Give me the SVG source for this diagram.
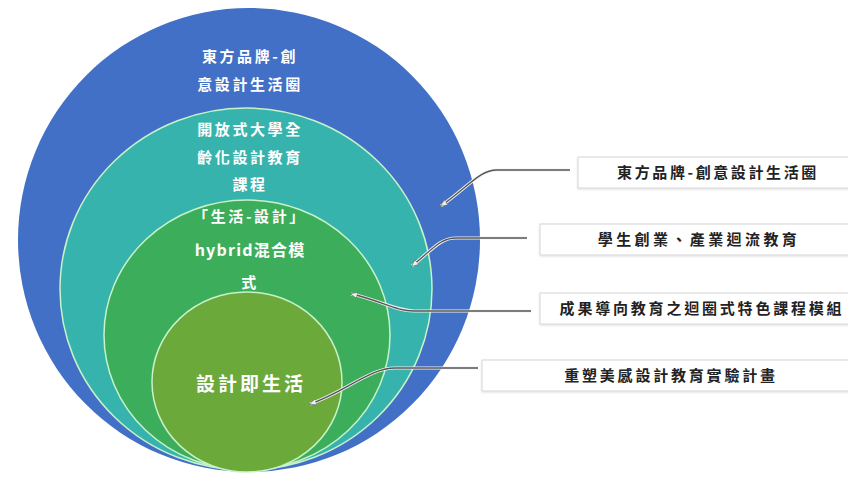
<svg xmlns="http://www.w3.org/2000/svg" width="848" height="481" viewBox="0 0 848 481">
<style>
.ring{stroke:#c8f2c8;stroke-width:1.5}
.ct{font-family:"Noto Sans CJK TC","Noto Sans",sans-serif;font-weight:bold;fill:#ffffff;font-size:15px;letter-spacing:2.6px;text-anchor:middle}
.box{fill:#ffffff;stroke:#d6d6d6;stroke-width:1}
.lt{font-family:"Noto Sans CJK TC","Noto Sans",sans-serif;font-weight:bold;fill:#222222;font-size:15px;letter-spacing:2.6px;text-anchor:middle}
.under{fill:none;stroke:#f2f2f2;stroke-width:3.2}
.line{fill:none;stroke:#555555;stroke-width:1.3}
</style>
<defs>
<marker id="arr" viewBox="0 0 10 10" refX="8" refY="5" markerWidth="6" markerHeight="6" orient="auto-start-reverse">
<path d="M0,1 L9,5 L0,9 z" fill="#e8f4e8" stroke="#666" stroke-width="0.8"/>
</marker>
<filter id="sh" x="-5%" y="-20%" width="110%" height="140%">
<feDropShadow dx="0" dy="1" stdDeviation="1" flood-color="#000" flood-opacity="0.12"/>
</filter>
</defs>
<rect width="848" height="481" fill="#ffffff"/>
<g id="outer">
<ellipse cx="249" cy="240" rx="231" ry="232" fill="#4170C6"/>
<text class="ct" x="250" y="62">東方品牌-創</text>
<text class="ct" x="250" y="90">意設計生活圈</text>
</g>
<g id="ring2">
<ellipse class="ring" cx="246" cy="289" rx="186" ry="181" fill="#37B3AE"/>
<text class="ct" x="250" y="135">開放式大學全</text>
<text class="ct" x="250" y="163">齡化設計教育</text>
<text class="ct" x="250" y="190">課程</text>
</g>
<g id="ring3">
<ellipse class="ring" cx="247" cy="335" rx="143" ry="135" fill="#3CAE5B"/>
<text class="ct" x="250" y="222">「生活-設計」</text>
<text class="ct" x="250" y="256" style="letter-spacing:1.2px;font-size:16px">hybrid混合模</text>
<text class="ct" x="250" y="288">式</text>
</g>
<g id="inner">
<ellipse class="ring" cx="247" cy="382" rx="95" ry="90" fill="#6BA93B"/>
<text class="ct" x="251" y="391" style="font-size:19px;letter-spacing:3px">設計即生活</text>
</g>
<g id="label1">
<rect class="box" x="578" y="157" width="280" height="31" filter="url(#sh)"/>
<text class="lt" x="718" y="178">東方品牌-創意設計生活圈</text>
</g>
<g id="label2">
<rect class="box" x="540" y="224" width="318" height="31" filter="url(#sh)"/>
<text class="lt" x="699" y="245" style="letter-spacing:3.4px">學生創業、產業迴流教育</text>
</g>
<g id="label3">
<rect class="box" x="540" y="293" width="318" height="31" filter="url(#sh)"/>
<text class="lt" x="702" y="314" style="letter-spacing:2.8px">成果導向教育之迴圈式特色課程模組</text>
</g>
<g id="label4">
<rect class="box" x="482" y="360" width="376" height="31" filter="url(#sh)"/>
<text class="lt" x="671" y="381" style="letter-spacing:2.8px">重塑美感設計教育實驗計畫</text>
</g>
<g id="connectors">
<path class="under" d="M570,170 L497,170 C480,170 470,185 441,206"/>
<path class="line" d="M570,170 L497,170 C480,170 470,185 441,206" marker-end="url(#arr)"/>
<path class="under" d="M527,238 L456,238 C440,238 432,250 412,266"/>
<path class="line" d="M527,238 L456,238 C440,238 432,250 412,266" marker-end="url(#arr)"/>
<path class="under" d="M531,311 L414,311 C395,311 380,300 351,294"/>
<path class="line" d="M531,311 L414,311 C395,311 380,300 351,294" marker-end="url(#arr)"/>
<path class="under" d="M478,368 L395,368 C370,368 345,392 310,404"/>
<path class="line" d="M478,368 L395,368 C370,368 345,392 310,404" marker-end="url(#arr)"/>
</g>
</svg>
